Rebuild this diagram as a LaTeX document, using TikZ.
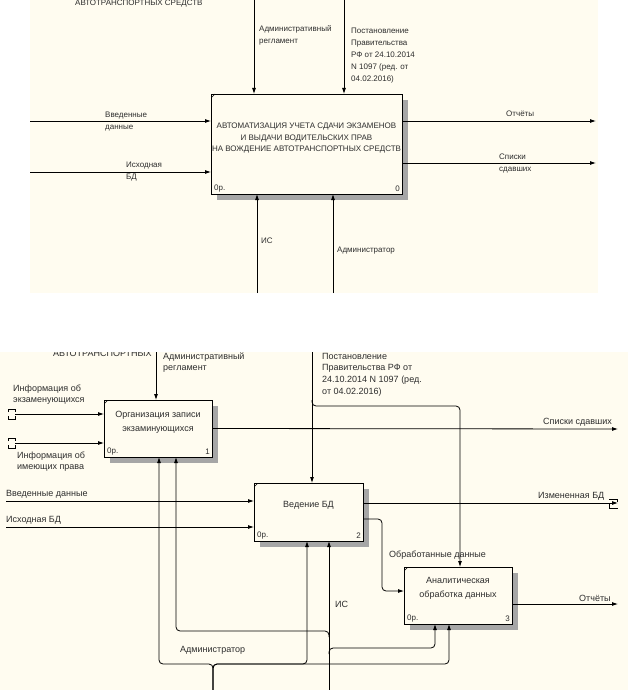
\documentclass[tikz,border=0pt]{standalone}
\usepackage{fontspec}
\setmainfont{Liberation Sans}
\usetikzlibrary{arrows.meta, shadows}
\tikzset{>={Latex[length=6pt,width=4pt]}}
\definecolor{cream}{RGB}{255,252,240}
\definecolor{ink}{RGB}{45,45,45}

\begin{document}
\begin{tikzpicture}[x=1pt, y=-1pt,
  func/.style={draw=black, fill=cream, line width=0.9pt, inner sep=0pt, outer sep=0pt, drop shadow={shadow xshift=6pt, shadow yshift=-6pt, opacity=1, fill=black!35}, path picture={\draw[line width=0.6pt] (path picture bounding box.north west) ++(0,4) -- ++(4,-4);}},
  arr/.style={->, draw=black, line width=0.8pt},
  tunnel/.style={draw=black, line width=0.7pt},
  lblt/.style={font=\fontsize{8}{12}\selectfont, text=ink, inner sep=0pt, align=left},
  lblb/.style={font=\fontsize{9}{11.7}\selectfont, text=ink, inner sep=0pt, align=left},
  boxt/.style={font=\fontsize{8}{11.5}\selectfont, text=ink, inner sep=0pt, align=center},
  boxb/.style={font=\fontsize{9}{14}\selectfont, text=ink, inner sep=0pt, align=center},
  corner/.style={font=\fontsize{8}{9}\selectfont, text=ink, inner sep=0pt}]

    \useasboundingbox (0,0) rectangle (628,690);
    \fill[white] (0,0) rectangle (628,690);

    %Backgrounds
    \fill[cream] (30,0) rectangle (598,293);
    \fill[cream] (0,352) rectangle (628,690);

    %Top diagram: nodes
    \node[lblt, anchor=base west] (hdrtop) at (75,6) {АВТОТРАНСПОРТНЫХ СРЕДСТВ};
    \node[func, minimum width=191pt, minimum height=100pt] (a0) at (306.5,144) {};
    \node[boxt] (a0name) at (306.5,138.5) {АВТОМАТИЗАЦИЯ УЧЕТА СДАЧИ ЭКЗАМЕНОВ\\И ВЫДАЧИ ВОДИТЕЛЬСКИХ ПРАВ\\НА ВОЖДЕНИЕ АВТОТРАНСПОРТНЫХ СРЕДСТВ};
    \node[corner, anchor=south west] (a0p) at ([xshift=3pt,yshift=2pt]a0.south west) {0р.};
    \node[corner, anchor=south east] (a0n) at ([xshift=-2pt,yshift=2pt]a0.south east) {0};

    \coordinate (a0c1) at (254,0);
    \coordinate (a0c2) at (344,0);
    \coordinate (a0i1) at (30,121);
    \coordinate (a0i2) at (30,172);
    \coordinate (a0o1) at (596,121);
    \coordinate (a0o2) at (596,163);
    \coordinate (a0m1) at (257,293);
    \coordinate (a0m2) at (333,293);

    \node[lblt, anchor=west] (regtop) at (259,35.5) {Административный\\регламент};
    \node[lblt, anchor=west] (posttop) at (351,56) {Постановление\\Правительства\\РФ от 24.10.2014\\N 1097 (ред. от\\04.02.2016)};
    \node[lblt, anchor=west] (vvtop) at (105,122) {Введенные\\данные};
    \node[lblt, anchor=west] (ishtop) at (126,172) {Исходная\\БД};
    \node[lblt, anchor=west] (otchtop) at (506,114) {Отчёты};
    \node[lblt, anchor=west] (spistop) at (499,163.5) {Списки\\сдавших};
    \node[lblt, anchor=west] (istop) at (261,241) {ИС};
    \node[lblt, anchor=west] (admtop) at (337,251) {Администратор};

    %Top diagram: lines
    \draw[arr] (a0c1) -- (a0c1 |- a0.north);
    \draw[arr] (a0c2) -- (a0c2 |- a0.north);
    \draw[arr] (a0i1) -- (a0i1 -| a0.west);
    \draw[arr] (a0i2) -- (a0i2 -| a0.west);
    \draw[arr] (a0o1 -| a0.east) -- (a0o1);
    \draw[arr] (a0o2 -| a0.east) -- (a0o2);
    \draw[arr] (a0m1) -- (a0m1 |- a0.south);
    \draw[arr] (a0m2) -- (a0m2 |- a0.south);

    %Bottom diagram: nodes
    \begin{scope}
      \clip (0,352) rectangle (160,362);
      \node[lblb, anchor=base west] (hdrbot) at (53,356.5) {АВТОТРАНСПОРТНЫХ};
    \end{scope}
    \node[func, minimum width=108pt, minimum height=57pt] (b1) at (158,428.5) {};
    \node[func, minimum width=109pt, minimum height=58pt] (b2) at (308.5,512) {};
    \node[func, minimum width=108pt, minimum height=57pt] (b3) at (458,595.5) {};
    \node[boxb] (b1name) at (158,422) {Организация записи\\экзаминующихся};
    \node[boxb] (b2name) at (308.5,505) {Ведение БД};
    \node[boxb] (b3name) at (458,588.5) {Аналитическая\\обработка данных};
    \foreach \b/\n in {b1/1, b2/2, b3/3} {
      \node[corner, anchor=south west] (\b p) at ([xshift=3pt,yshift=2pt]\b.south west) {0р.};
      \node[corner, anchor=south east] (\b n) at ([xshift=-2pt,yshift=2pt]\b.south east) {\n};
    }

    \coordinate (b1c) at (156,352);
    \coordinate (b2c) at (312,352);
    \coordinate (b2split) at (312,400);
    \coordinate (b1i1) at (15,414);
    \coordinate (b1i2) at (15,443);
    \coordinate (b1o) at (618,429);
    \coordinate (b2i1) at (6,501);
    \coordinate (b2i2) at (6,527);
    \coordinate (b2o) at (618,503);
    \coordinate (b3o) at (618,604);
    \coordinate (is) at (329,690);
    \coordinate (adm) at (213,690);

    \node[lblb, anchor=west] (regbot) at (163,362.5) {Административный\\регламент};
    \node[lblb, anchor=west] (postbot) at (322,374.5) {Постановление\\Правительства РФ от\\24.10.2014 N 1097 (ред.\\от 04.02.2016)};
    \node[lblb, anchor=west] (infex) at (13,394.5) {Информация об\\экзаменующихся};
    \node[lblb, anchor=west] (infim) at (17,461.5) {Информация об\\имеющих права};
    \node[lblb, anchor=west] (vvbot) at (6,494) {Введенные данные};
    \node[lblb, anchor=west] (ishbot) at (6,520) {Исходная БД};
    \node[lblb, anchor=east] (spisbot) at (612,422) {Списки сдавших};
    \node[lblb, anchor=west] (izmbot) at (538,496) {Измененная БД};
    \node[lblb, anchor=west] (obrbot) at (389,555) {Обработанные данные};
    \node[lblb, anchor=west] (otchbot) at (579,598) {Отчёты};
    \node[lblb, anchor=west] (isbot) at (335,604) {ИС};
    \node[lblb, anchor=west] (admbot) at (180,650) {Администратор};

    %Bottom diagram: lines
    \draw[arr] (b1c) -- (b1c |- b1.north);
    \draw[arr] (b2c) -- (b2c |- b2.north);
    \draw[arr, rounded corners=4pt] (b2split) -- ++(0,6) -| ([xshift=2pt]b3.north);
    \draw[arr] (b1i1) -- (b1i1 -| b1.west);
    \draw[arr] (b1i2) -- (b1i2 -| b1.west);
    \draw[arr] (b1.east) -- (b1o);
    \draw[arr] (b2i1) -- (b2i1 -| b2.west);
    \draw[arr] (b2i2) -- (b2i2 -| b2.west);
    \draw[arr] (b2o -| b2.east) -- (b2o);
    \draw[arr, rounded corners=4pt] ([yshift=-7pt]b2.east) -- ++(19,0) |- ([yshift=4.5pt]b3.west);
    \draw[arr] (b3o -| b3.east) -- (b3o);
    \draw[arr] (is) -- (is |- b2.south);
    \draw[arr, rounded corners=4pt] ([yshift=53pt]is) -- ++(0,-6) -| ([xshift=18pt]b1.south);
    \draw[arr, rounded corners=4pt] ([yshift=36pt]is) -- ++(0,-6) -| ([xshift=-23pt]b3.south);
    \draw[arr, rounded corners=4pt] (adm) -- ++(0,-26) -| ([xshift=1pt]b1.south);
    \draw[arr, rounded corners=4pt] (adm) -- ++(0,-26) -| ([xshift=-1.5pt]b2.south);
    \draw[arr, rounded corners=4pt] (adm) -- ++(0,-26) -| ([xshift=-9pt]b3.south);

    %Tunnels
    \foreach \t in {b1i1, b1i2} {
      \draw[tunnel] ([shift={(-7,-2)}]\t) -- ++(0,-3) -- ++(7,0) -- ++(0,3);
      \draw[tunnel] ([shift={(-7,2)}]\t) -- ++(0,3) -- ++(7,0) -- ++(0,-3);
    }
    \draw[tunnel] ([shift={(-9,-4)}]b2o) -- ++(8,0) -- ++(0,3);
    \draw[tunnel] ([shift={(-9,1)}]b2o) -- ++(0,4) -- ++(9,0);

\end{tikzpicture}
\end{document}
